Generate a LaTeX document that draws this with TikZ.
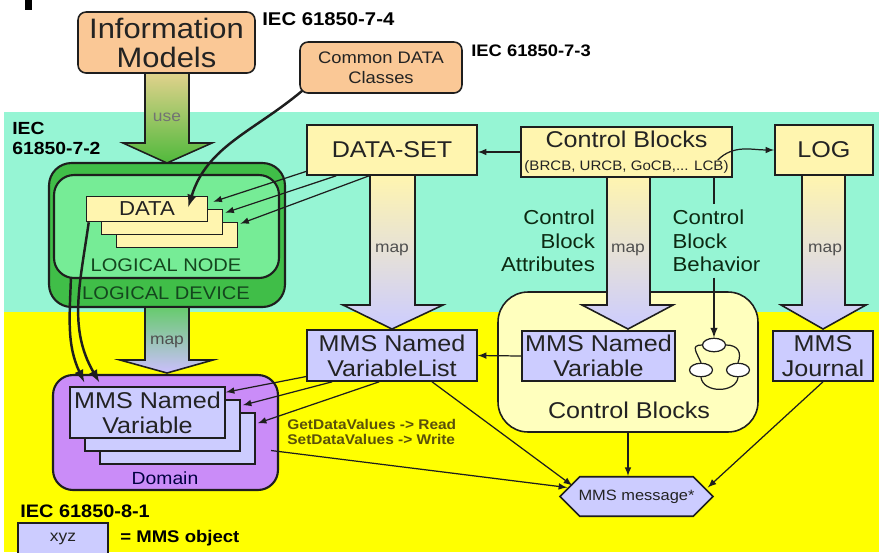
\documentclass[tikz,border=0pt]{standalone}
\usepackage{fontspec}
\setmainfont{Liberation Sans}[FakeStretch=1.1]
\usetikzlibrary{arrows,positioning,calc,shapes.misc,shapes.geometric}
\definecolor{bandcyan}{RGB}{150,245,212}
\definecolor{bandyellow}{RGB}{255,255,0}
\definecolor{linegray}{RGB}{30,30,30}
\definecolor{infoorange}{RGB}{250,200,150}
\definecolor{boxyellow}{RGB}{255,245,175}
\definecolor{cbpale}{RGB}{255,255,190}
\definecolor{mmslav}{RGB}{204,204,255}
\definecolor{domainpurple}{RGB}{202,140,248}
\definecolor{ldgreen}{RGB}{64,190,72}
\definecolor{lngreen}{RGB}{118,236,150}
\definecolor{usetan}{RGB}{225,210,140}
\definecolor{usegreen}{RGB}{80,185,60}
\definecolor{txtdark}{RGB}{35,35,35}
\definecolor{txtgreen}{RGB}{20,70,30}
\definecolor{txtolive}{RGB}{90,80,10}
\tikzset{
 blk/.style = {rectangle, draw=linegray, line width=0.9pt, inner sep=1pt,
           align=center, text=txtdark},
 ylbox/.style = {blk, fill=boxyellow, minimum height=1cm,
           font=\fontsize{13}{14}\selectfont},
 mmsbox/.style = {blk, fill=mmslav, font=\fontsize{13}{14.2}\selectfont},
 infobox/.style = {blk, fill=infoorange, rounded corners=0.16cm},
 databox/.style = {blk, fill=boxyellow, minimum width=2.42cm,
           minimum height=0.5cm, font=\fontsize{11.5}{12}\selectfont},
 iec/.style = {inner sep=0pt, anchor=west, text=black},
 lbl/.style = {inner sep=1pt, text=txtgreen,
           font=\fontsize{10.4}{12}\selectfont},
 maplbl/.style = {inner sep=1pt, text=txtdark!80,
           font=\fontsize{9}{10}\selectfont},
 state/.style = {ellipse, draw=linegray, line width=0.7pt, fill=white,
           minimum width=0.46cm, minimum height=0.27cm, inner sep=0pt},
 link/.style = {draw=linegray, line width=0.7pt, ->},
 fatlink/.style = {draw=linegray, line width=1.4pt, ->},
 fatarrow/.style = {draw=linegray, line width=0.9pt}
}

\begin{document}
\begin{tikzpicture}[x=0.02cm, y=-0.02cm, >=latex]
  \useasboundingbox (0,0) rectangle (879,552);
  % Bands
  \fill[bandcyan] (4,112) rectangle (879,312);
  \fill[bandyellow] (4,312) rectangle (879,552);
  \fill[black] (25,0) rectangle (32,10);

  % Control Blocks container
  \node[draw=linegray, line width=0.9pt, fill=cbpale, rounded corners=0.6cm,
    minimum width=5.2cm, minimum height=2.8cm] (cbcont) at (628,362) {};
  \node[inner sep=1pt, text=txtdark, font=\fontsize{13}{14}\selectfont]
    (cbcontlbl) at (629,410) {Control Blocks};

  % Logical device and logical node
  \node[draw=linegray, line width=1.2pt, fill=ldgreen, rounded corners=0.45cm,
    minimum width=4.72cm, minimum height=2.88cm] (ld) at (167,235) {};
  \node[draw=linegray, line width=1.2pt, fill=lngreen, rounded corners=0.4cm,
    minimum width=4.5cm, minimum height=2.06cm] (ln) at (166.5,226.5) {};
  \node[lbl] (lnlbl) at (166,265) {LOGICAL NODE};
  \node[lbl] (ldlbl) at (166,293) {LOGICAL DEVICE};

  % DATA stack
  \node[databox] (data3) at (177,235) {};
  \node[databox] (data2) at (162,222) {};
  \node[databox] (data1) at (147,209) {DATA};

  % Domain
  \node[draw=linegray, line width=1.2pt, fill=domainpurple, rounded corners=0.4cm,
    minimum width=4.5cm, minimum height=2.3cm] (domain) at (165.5,432.5) {};
  \node[inner sep=1pt, text=black!75!blue, font=\fontsize{10}{12}\selectfont]
    (domainlbl) at (165,478) {Domain};
  \node[mmsbox, minimum width=3.1cm, minimum height=1.02cm] (mnv3) at (177.5,438.5) {};
  \node[mmsbox, minimum width=3.1cm, minimum height=1.02cm] (mnv2) at (162.5,425.5) {};
  \node[mmsbox, minimum width=3.1cm, minimum height=1.02cm] (mnv1) at (147.5,412.5)
    {MMS Named\\Variable};

  % Fat arrows
  \shadedraw[fatarrow, top color=usetan, bottom color=usegreen]
    (145,73) -- (145,143) -- (123,143) -- (167,163) -- (212,143)
    -- (189,143) -- (189,73) -- cycle;
  \node[maplbl, text=black!55] (uselbl) at (167,117) {use};
  \shadedraw[fatarrow, top color=ldgreen!80, bottom color=mmslav!80!domainpurple]
    (145,307) -- (145,360) -- (120,360) -- (167,373) -- (213,360)
    -- (189,360) -- (189,307) -- cycle;
  \node[maplbl] (ldmap) at (167,342) {map};
  \shadedraw[fatarrow, top color=boxyellow, bottom color=mmslav]
    (370,175) -- (370,305) -- (343,305) -- (392,329) -- (443,305)
    -- (415,305) -- (415,175) -- cycle;
  \node[maplbl] (dsmap) at (392,250) {map};
  \shadedraw[fatarrow, top color=boxyellow, bottom color=mmslav]
    (607,175) -- (607,305) -- (582,305) -- (628,329) -- (673,305)
    -- (650,305) -- (650,175) -- cycle;
  \node[maplbl] (cbmap) at (628,250) {map};
  \shadedraw[fatarrow, top color=boxyellow, bottom color=mmslav]
    (802,175) -- (802,305) -- (781,305) -- (823,329) -- (866,305)
    -- (845,305) -- (845,175) -- cycle;
  \node[maplbl] (logmap) at (825,250) {map};

  % Top row
  \node[infobox, minimum width=3.54cm, minimum height=1.22cm,
    font=\fontsize{16}{16.5}\selectfont] (info) at (166.5,42.5)
    {Information\\Models};
  \node[infobox, minimum width=3.24cm, minimum height=1.02cm,
    font=\fontsize{9.5}{11.4}\selectfont] (cdc) at (381,67.5)
    {Common DATA\\Classes};
  \node[iec, font=\bfseries\fontsize{10.5}{12}\selectfont] (iec74) at (262,19)
    {IEC 61850-7-4};
  \node[iec, font=\bfseries\fontsize{9.5}{11}\selectfont] (iec73) at (471,51)
    {IEC 61850-7-3};
  \node[iec, anchor=north west, align=left,
    font=\bfseries\fontsize{10}{11.4}\selectfont] (iec72) at (12,122)
    {IEC\\61850-7-2};

  % Cyan row
  \node[ylbox, minimum width=3.4cm] (dataset) at (392,150) {DATA-SET};
  \node[ylbox, minimum width=4.22cm, inner sep=0pt] (cb) at (626.5,152)
    {Control Blocks\\[-1pt]{\fontsize{7.8}{8}\selectfont (BRCB, URCB, GoCB,... LCB)}};
  \node[ylbox, minimum width=1.96cm] (log) at (824,150) {LOG};
  \node[inner sep=1pt, anchor=east, align=right, text=txtgreen!60!black,
    font=\fontsize{11.5}{13.4}\selectfont] (cbattr) at (597,241)
    {Control\\Block\\Attributes};
  \node[inner sep=3pt, anchor=west, align=left, text=txtgreen!60!black,
    font=\fontsize{11.5}{13.4}\selectfont] (cbbeh) at (667,241)
    {Control\\Block\\Behavior};

  % Yellow row
  \node[mmsbox, minimum width=3.4cm, minimum height=1.02cm] (varlist)
    at (392,355.5) {MMS Named\\VariableList};
  \node[mmsbox, minimum width=3.06cm, minimum height=1cm] (mnvcb)
    at (598.5,356) {MMS Named\\Variable};
  \node[mmsbox, minimum width=2cm, minimum height=1cm] (journal)
    at (823,356) {MMS\\Journal};

  % State machine
  \node[state] (st1) at (714,345) {};
  \node[state] (st2) at (701,370) {};
  \node[state] (st3) at (738,370) {};
  \draw[linegray, line width=0.7pt] (st1.west) .. controls +(-12,0) and +(-4,-10) .. (st2.north);
  \draw[linegray, line width=0.7pt] (st1.east) .. controls +(12,0) and +(4,-10) .. (st3.north);
  \draw[linegray, line width=0.7pt] (st2.south) .. controls +(2,16) and +(-2,16) .. (st3.south);

  % MMS message
  \node[chamfered rectangle, chamfered rectangle xsep=0.3cm,
    chamfered rectangle ysep=0.26cm, draw=linegray, line width=0.9pt,
    fill=mmslav, minimum width=3.06cm, minimum height=0.54cm, inner sep=0pt,
    text=txtdark, font=\fontsize{8.5}{10}\selectfont] (mmsmsg) at (636.5,496.5)
    {MMS message*};

  % Legend
  \node[iec, font=\bfseries\fontsize{10.3}{12}\selectfont] (iec81) at (20,511)
    {IEC 61850-8-1};
  \node[mmsbox, minimum width=1.8cm, minimum height=0.64cm,
    font=\fontsize{9}{10}\selectfont] (legend) at (63,539) {xyz};
  \node[iec, font=\bfseries\fontsize{9.6}{11}\selectfont] (legendlbl) at (120,538)
    {= MMS object};
  \node[iec, align=left, text=txtolive, font=\bfseries\fontsize{8}{8.6}\selectfont]
    (rwlbl) at (287,432) {GetDataValues -> Read\\SetDataValues -> Write};

  % Connectors
  \draw[fatlink] ($(cdc.south west)+(3,-3)$) to[out=220,in=73]
    ($(data1.east)+(-20,-2)$);
  \draw[link] ([yshift=2.5pt]dataset.south west) -- ($(data1.north east)+(5,6)$);
  \draw[link] ($(dataset.south west)+(30,0)$) -- ($(data2.north east)+(2,4)$);
  \draw[link] ($(dataset.south west)+(63,0)$) -- ($(data3.north east)+(2,2)$);
  \draw[fatlink] ($(data1.south west)+(3,0)$) to[out=-98,in=120]
    ($(mnv1.north west)+(30,-4)$);
  \draw[fatlink] ($(ln.south west)+(18,-2)$) to[out=-92,in=115]
    ($(mnv1.north west)+(15,-4)$);
  \draw[link] (cb.west) -- (cb.west -| dataset.east);
  \draw[link] ($(cb.east)+(-15,8)$) to[out=45,in=180] (log.west);
  \draw[linegray, line width=0.9pt] (cb.south -| st1) -- (cbbeh.north -| st1);
  \draw[link, line width=0.9pt] (cbbeh.south -| st1) -- (st1.north);
  \draw[link] (mnvcb.west) -- (varlist.east);
  \draw[link] ([yshift=3pt]varlist.south west) -- ($(mnv1.north east)+(0,6)$);
  \draw[link] ($(varlist.south west)+(26,0)$) -- ($(mnv2.north east)+(2,6)$);
  \draw[link] ($(varlist.south west)+(73,0)$) -- ($(mnv3.north east)+(2,11)$);
  \draw[link] ($(domain.east)+(-8,18)$) -- ($(mmsmsg.west)+(8,-9)$);
  \draw[link] ($(varlist.south)+(40,0)$) -- ($(mmsmsg.west)+(13,-11)$);
  \draw[link] (cbcont.south) -- (cbcont.south |- mmsmsg.north);
  \draw[link] (journal.south) -- ($(mmsmsg.east)+(-6,-9)$);
\end{tikzpicture}
\end{document}
